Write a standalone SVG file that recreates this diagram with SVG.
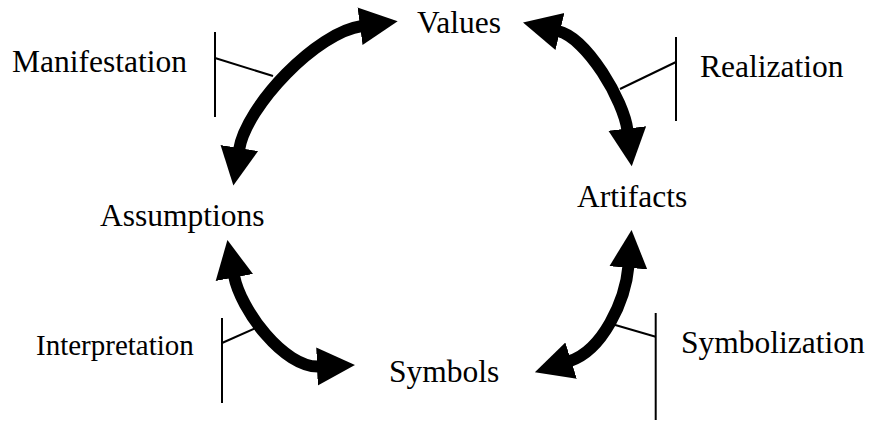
<svg xmlns="http://www.w3.org/2000/svg" width="872" height="425" viewBox="0 0 872 425">
<style>
  .arc { fill: none; stroke: #000; stroke-width: 12; marker-start: url(#head); marker-end: url(#head); }
  .tick { fill: none; stroke: #000; stroke-width: 2; }
</style>
<defs>
  <marker id="head" viewBox="0 0 40 40" refX="2" refY="20" markerWidth="40" markerHeight="40" markerUnits="userSpaceOnUse" orient="auto-start-reverse">
    <path d="M0,1 L38,20 L0,39 z" fill="#000"/>
  </marker>
</defs>
<rect width="872" height="425" fill="#fff"/>

<g id="node-values"><text x="417" y="33" font-family="Liberation Serif" font-size="31.5">Values</text></g>
<g id="node-artifacts"><text x="577" y="207" font-family="Liberation Serif" font-size="31.5">Artifacts</text></g>
<g id="node-symbols"><text x="389" y="382" font-family="Liberation Serif" font-size="31.5">Symbols</text></g>
<g id="node-assumptions"><text x="100" y="226" font-family="Liberation Serif" font-size="31.5">Assumptions</text></g>

<g id="connectors">
  <path class="arc" d="M239,150 C246,106 317,32 362,26"/>
  <path class="arc" d="M558,31 C587,38 624,101 627.5,130.5"/>
  <path class="arc" d="M234,275.5 C240.4,309.9 284,367.9 319,366.5"/>
  <path class="arc" d="M628.5,265.8 C625.5,300.7 602.6,350.7 569.2,361.3"/>
</g>

<g id="label-manifestation">
  <line class="tick" x1="215" y1="32" x2="215" y2="117"/>
  <line class="tick" x1="215" y1="58" x2="273" y2="76"/>
  <text x="12" y="72" font-family="Liberation Serif" font-size="31.5">Manifestation</text>
</g>
<g id="label-realization">
  <line class="tick" x1="676" y1="37" x2="676" y2="121"/>
  <line class="tick" x1="676" y1="62" x2="620" y2="89"/>
  <text x="700" y="77" font-family="Liberation Serif" font-size="31.5">Realization</text>
</g>
<g id="label-interpretation">
  <line class="tick" x1="222" y1="318" x2="222" y2="403"/>
  <line class="tick" x1="222" y1="343" x2="256" y2="328"/>
  <text x="36" y="355" font-family="Liberation Serif" font-size="29">Interpretation</text>
</g>
<g id="label-symbolization">
  <line class="tick" x1="655.7" y1="313" x2="655.7" y2="420"/>
  <line class="tick" x1="655.7" y1="336.7" x2="612.7" y2="324.3"/>
  <text x="681" y="353" font-family="Liberation Serif" font-size="31.5">Symbolization</text>
</g>
</svg>
